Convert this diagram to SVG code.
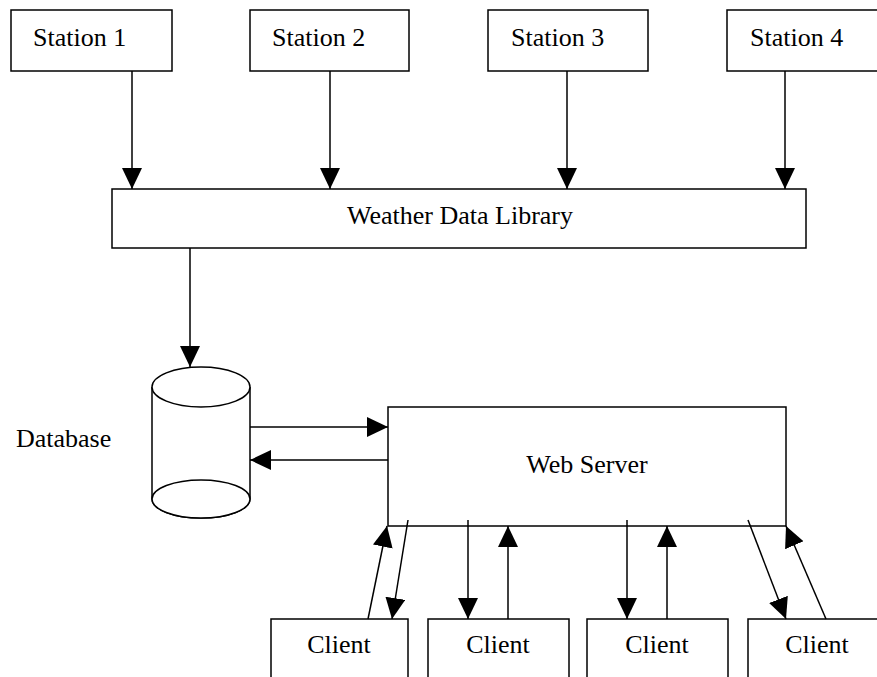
<svg xmlns="http://www.w3.org/2000/svg" width="877" height="677" viewBox="0 0 877 677">
  <style>
    .box { fill: #fff; stroke: #000; stroke-width: 1.5; }
    .lbl { font-family: "Liberation Serif", "Times New Roman", serif; font-size: 26px; fill: #000; }
    .mid { text-anchor: middle; }
    .link { fill: none; stroke: #000; stroke-width: 1.5; marker-end: url(#head); }
  </style>
  <defs>
    <marker id="head" markerUnits="userSpaceOnUse" markerWidth="22" markerHeight="22" refX="21" refY="10" orient="auto">
      <path d="M0,0 L21,10 L0,20 Z" fill="#000"/>
    </marker>
  </defs>
  <rect width="877" height="677" fill="#fff"/>

  <g id="station1">
    <rect class="box" x="11" y="10" width="161" height="61"/>
    <text class="lbl" x="33" y="46">Station 1</text>
  </g>
  <g id="station2">
    <rect class="box" x="250" y="10" width="159" height="61"/>
    <text class="lbl" x="272" y="46">Station 2</text>
  </g>
  <g id="station3">
    <rect class="box" x="488" y="10" width="160" height="61"/>
    <text class="lbl" x="511" y="46">Station 3</text>
  </g>
  <g id="station4">
    <rect class="box" x="727" y="10" width="160" height="61"/>
    <text class="lbl" x="750" y="46">Station 4</text>
  </g>

  <g id="library">
    <rect class="box" x="112" y="189" width="694" height="59"/>
    <text class="lbl mid" x="460" y="224">Weather Data Library</text>
  </g>

  <g id="database">
    <path class="box" d="M152,387 L152,499 A49,19 0 0 0 250,499 L250,387"/>
    <ellipse class="box" cx="201" cy="387" rx="49" ry="20"/>
    <ellipse class="box" cx="201" cy="499" rx="49" ry="19"/>
    <text class="lbl" x="16" y="447">Database</text>
  </g>

  <g id="webserver">
    <rect class="box" x="388" y="407" width="398" height="119"/>
    <text class="lbl mid" x="587" y="473">Web Server</text>
  </g>

  <g id="client1">
    <rect class="box" x="271" y="619" width="137" height="80"/>
    <text class="lbl mid" x="339" y="653">Client</text>
  </g>
  <g id="client2">
    <rect class="box" x="428" y="619" width="141" height="80"/>
    <text class="lbl mid" x="498" y="653">Client</text>
  </g>
  <g id="client3">
    <rect class="box" x="587" y="619" width="141" height="80"/>
    <text class="lbl mid" x="657" y="653">Client</text>
  </g>
  <g id="client4">
    <rect class="box" x="748" y="619" width="140" height="80"/>
    <text class="lbl mid" x="817" y="653">Client</text>
  </g>

  <g id="connectors">
    <line class="link" x1="132" y1="71" x2="132" y2="189"/>
    <line class="link" x1="330" y1="71" x2="330" y2="189"/>
    <line class="link" x1="567" y1="71" x2="567" y2="189"/>
    <line class="link" x1="785" y1="71" x2="785" y2="189"/>
    <line class="link" x1="190" y1="248" x2="190" y2="367"/>
    <line class="link" x1="250" y1="427" x2="388" y2="427"/>
    <line class="link" x1="388" y1="460" x2="250" y2="460"/>
    <line class="link" x1="368" y1="619" x2="387" y2="526"/>
    <line class="link" x1="408" y1="520" x2="392" y2="619"/>
    <line class="link" x1="468" y1="520" x2="468" y2="619"/>
    <line class="link" x1="508" y1="619" x2="508" y2="526"/>
    <line class="link" x1="627" y1="520" x2="627" y2="619"/>
    <line class="link" x1="667" y1="619" x2="667" y2="526"/>
    <line class="link" x1="748" y1="520" x2="786" y2="619"/>
    <line class="link" x1="826" y1="619" x2="786" y2="526"/>
  </g>
</svg>
